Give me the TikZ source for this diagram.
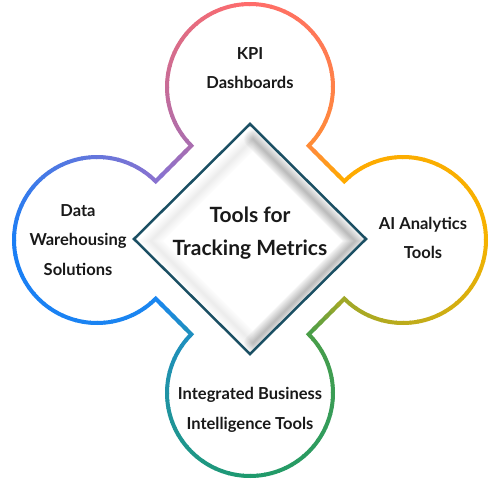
\documentclass[tikz,border=0pt]{standalone}
\usepackage{fontspec}
\setmainfont{Lato}
\usetikzlibrary{calc}

\definecolor{kpiorange}{HTML}{FF8C38}
\definecolor{kpicoral}{HTML}{FF6B6B}
\definecolor{kpimauve}{HTML}{A96DB0}
\definecolor{dwviolet}{HTML}{8872D0}
\definecolor{dwblue}{HTML}{1A7EF5}
\definecolor{dwsky}{HTML}{1A86F0}
\definecolor{biteal}{HTML}{1F8FC0}
\definecolor{bigreen}{HTML}{1E9A6C}
\definecolor{bileaf}{HTML}{4A9E48}
\definecolor{aiolive}{HTML}{A0A828}
\definecolor{aigold}{HTML}{F6B200}
\definecolor{aiamber}{HTML}{FFAA00}
\definecolor{hubline}{HTML}{1B4F63}

\newcommand\rr{83}

% one ring: 270 degrees of arc, colour running c1 -> c2 -> c3
\newcommand\ringarc[5]{%
  \foreach \s in {0,...,53}{%
    \pgfmathsetmacro\ang{#2+5*\s}%
    \pgfmathsetmacro\dl{min(5.6,270-5*\s)}%
    \ifnum\s<27
      \pgfmathtruncatemacro\mix{100-100*\s/27}\colorlet{segc}{#3!\mix!#4}%
    \else
      \pgfmathtruncatemacro\mix{100-100*(\s-27)/27}\colorlet{segc}{#4!\mix!#5}%
    \fi
    \draw[ring, segc] ([shift={(\ang:\rr)}]#1) arc[start angle=\ang, delta angle=\dl, radius=\rr];
  }}

% straight link between two rings
\newcommand\notchline[4]{%
  \foreach \s in {0,...,5}{%
    \pgfmathtruncatemacro\mix{100-100*\s/5}\colorlet{segc}{#3!\mix!#4}%
    \draw[ring, segc, line cap=rect] ($(#1)!\s/6!(#2)$) -- ($(#1)!{(\s+1)/6}!(#2)$);
  }}

\begin{document}
\begin{tikzpicture}[x=1pt, y=1pt,
    ring/.style={line width=4pt},
    lab/.style={align=center, text=black!90,
      font=\fontsize{16.5}{29.5}\selectfont\bfseries},
    hub/.style={align=center, text=black!90,
      font=\fontsize{21}{33}\selectfont\bfseries}
  ]
  \useasboundingbox (-250,-240) rectangle (250,240);

  \coordinate (ctop) at (0,153);
  \coordinate (cleft) at (-153,0);
  \coordinate (cbot) at (0,-153);
  \coordinate (cright) at (153,0);

  \coordinate (tl1) at ($(ctop)+(225:\rr)$);
  \coordinate (tl2) at ($(cleft)+(45:\rr)$);
  \coordinate (bl1) at ($(cleft)+(315:\rr)$);
  \coordinate (bl2) at ($(cbot)+(135:\rr)$);
  \coordinate (br1) at ($(cbot)+(45:\rr)$);
  \coordinate (br2) at ($(cright)+(225:\rr)$);
  \coordinate (tr1) at ($(cright)+(135:\rr)$);
  \coordinate (tr2) at ($(ctop)+(315:\rr)$);

  % rings and links
  \ringarc{ctop}{315}{kpiorange}{kpicoral}{kpimauve}
  \notchline{tl1}{tl2}{kpimauve}{dwviolet}
  \ringarc{cleft}{45}{dwviolet}{dwblue}{dwsky}
  \notchline{bl1}{bl2}{dwsky}{biteal}
  \ringarc{cbot}{135}{biteal}{bigreen}{bileaf}
  \notchline{br1}{br2}{bileaf}{aiolive}
  \ringarc{cright}{225}{aiolive}{aigold}{aiamber}
  \notchline{tr1}{tr2}{aiamber}{kpiorange}

  % centre diamond with soft inner shadow, darker to the lower right
  \begin{scope}
    \clip (0,116) -- (116,1) -- (0,-114) -- (-116,1) -- cycle;
    \foreach \w in {2,4,...,18}{
      \draw[black, opacity=0.008, line width=\w pt, line join=miter]
        (3,101) -- (105,-1) -- (3,-103) -- (-99,-1) -- cycle;
      \draw[black, opacity=0.022, line width=\w pt, line join=miter, line cap=round]
        (3,101) -- (105,-1) -- (3,-103);
    }
  \end{scope}
  \draw[hubline, line width=2.5pt, line join=miter]
    (0,116) -- (116,1) -- (0,-114) -- (-116,1) -- cycle;

  \node[hub] (hubtxt) at (0,7) {Tools for\\Tracking Metrics};

  \node[lab] (kpi) at (0,172) {KPI\\Dashboards};
  \node[lab] (ai) at (173,2) {AI Analytics\\Tools};
  \node[lab] (dw) at (-172,0) {Data\\Warehousing\\Solutions};
  \node[lab] (bi) at (0,-170) {Integrated Business\\Intelligence Tools};
\end{tikzpicture}
\end{document}
